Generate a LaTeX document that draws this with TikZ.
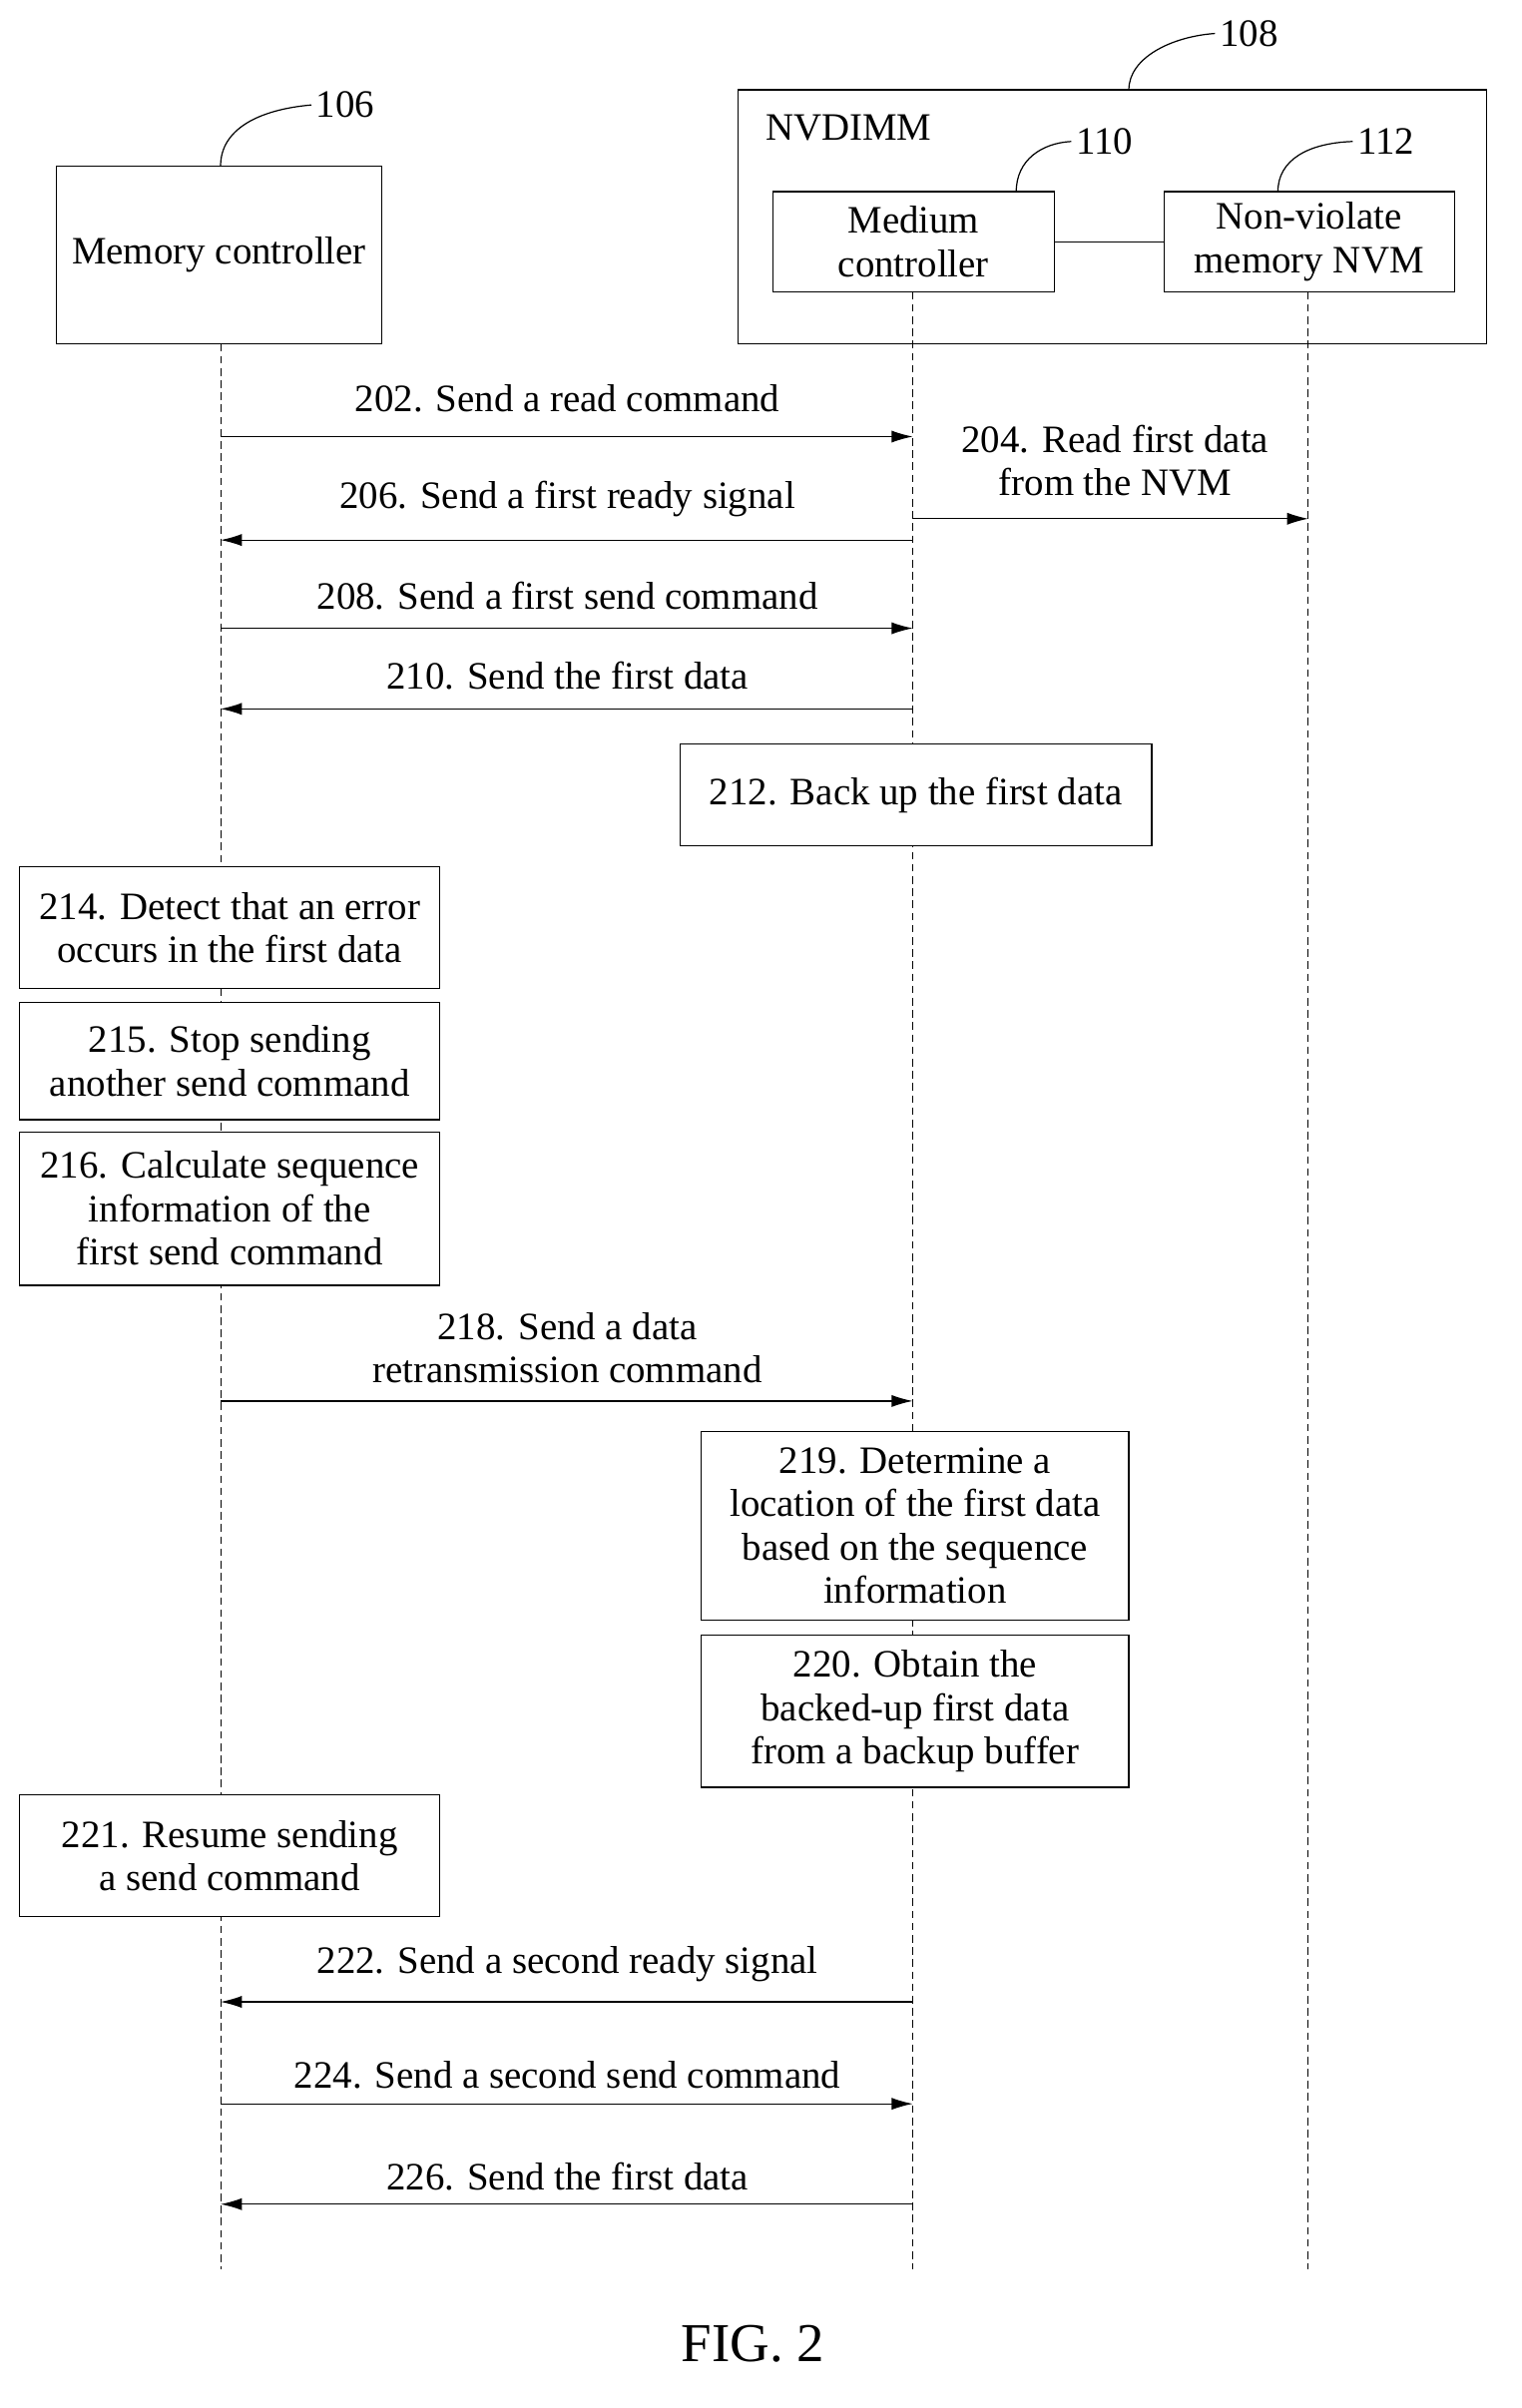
\documentclass[tikz,border=0pt]{standalone}
\usepackage{fontspec}
\setmainfont{Liberation Serif}
\newfontfamily\figfont{Liberation Serif}
\usetikzlibrary{arrows.meta}
\begin{document}
\begin{tikzpicture}[x=1pt,y=-1pt,
  every node/.style={font=\figfont\fontsize{25.5}{28.5}\selectfont},
  box/.style={draw,line width=0.8pt,align=center,inner sep=0},
  life/.style={dashed,dash pattern=on 5pt off 3pt,line width=0.6pt},
  msg/.style={line width=0.8pt,-{Latex[length=14pt,width=8pt]}},
  lead/.style={line width=0.8pt},
  lbl/.style={align=center,inner sep=0}]
\useasboundingbox (0,0) rectangle (1000,1583);
% boxes
\node[box,minimum width=214,minimum height=117] (mc) at (144,167.5) {Memory controller};
\node[box,minimum width=492,minimum height=167] (nv) at (731,142.5) {};
\node[lbl,anchor=west] (nvl) at (503,84) {NVDIMM};
\node[box,minimum width=185,minimum height=66] (med) at (600.5,159) {Medium\\controller};
\node[box,minimum width=191,minimum height=66] (nvm) at (860.5,159) {Non-violate\\memory NVM};
\draw[lead] (med.east) -- (nvm.west);
% leaders
\node[lbl] (n106) at (227,69) {106};
\node[lbl] (n108) at (821,22) {108};
\node[lbl] (n110) at (726,93) {110};
\node[lbl] (n112) at (911,93) {112};
\draw[lead] (145,109) .. controls (145,85) and (170,72) .. ([xshift=-3pt]n106.west);
\draw[lead] (742,59) .. controls (742,38) and (770,24) .. ([xshift=-3pt]n108.west);
\draw[lead] (668,126) .. controls (668,105) and (685,94) .. ([xshift=-3pt]n110.west);
\draw[lead] (840,126) .. controls (840,105) and (860,94) .. ([xshift=-3pt]n112.west);
% lifelines
\coordinate (a1) at (145,226); \coordinate (a2) at (145,1492);
\coordinate (b1) at (600,192); \coordinate (b2) at (600,1492);
\coordinate (c1) at (860,192); \coordinate (c2) at (860,1492);
\draw[life] (a1) -- (a2); \draw[life] (b1) -- (b2); \draw[life] (c1) -- (c2);
% messages
\foreach \n/\y in {p202/287,p206/355,p208/413,p210/466,p218/921,p222/1316,p224/1383,p226/1449}{
  \coordinate (\n a) at (145,\y); \coordinate (\n b) at (600,\y);}
\draw[msg] (p202a) -- (p202b);
\draw[msg] (p206b) -- (p206a);
\draw[msg] (p208a) -- (p208b);
\draw[msg] (p210b) -- (p210a);
\draw[msg] (p218a) -- (p218b);
\draw[msg] (p222b) -- (p222a);
\draw[msg] (p224a) -- (p224b);
\draw[msg] (p226b) -- (p226a);
\coordinate (p204a) at (600,341); \coordinate (p204b) at (860,341);
\draw[msg] (p204a) -- (p204b);
\node[lbl] (l202) at (373,262) {202. Send a read command};
\node[lbl] (l204) at (733,303) {204. Read first data\\from the NVM};
\node[lbl] (l206) at (373,328) {206. Send a first ready signal};
\node[lbl] (l208) at (373,392) {208. Send a first send command};
\node[lbl] (l210) at (373,444) {210. Send the first data};
\node[lbl] (l218) at (373,886) {218. Send a data\\retransmission command};
\node[lbl] (l222) at (373,1291) {222. Send a second ready signal};
\node[lbl] (l224) at (373,1364) {224. Send a second send command};
\node[lbl] (l226) at (373,1431) {226. Send the first data};
% process boxes
\node[box,fill=white,minimum width=310,minimum height=67] (s212) at (602,522.5) {212. Back up the first data};
\node[box,fill=white,minimum width=276,minimum height=80] (s214) at (151,610) {214. Detect that an error\\occurs in the first data};
\node[box,fill=white,minimum width=276,minimum height=77] (s215) at (151,697.5) {215. Stop sending\\another send command};
\node[box,fill=white,minimum width=276,minimum height=101] (s216) at (151,794.5) {216. Calculate sequence\\information of the\\first send command};
\node[box,fill=white,minimum width=281,minimum height=124] (s219) at (601.5,1003) {219. Determine a\\location of the first data\\based on the sequence\\information};
\node[box,fill=white,minimum width=281,minimum height=100] (s220) at (601.5,1125) {220. Obtain the\\backed-up first data\\from a backup buffer};
\node[box,fill=white,minimum width=276,minimum height=80] (s221) at (151,1220) {221. Resume sending\\a send command};
\node[lbl,font=\figfont\fontsize{36}{40}\selectfont] (fig) at (495,1541) {FIG. 2};
\end{tikzpicture}
\end{document}
